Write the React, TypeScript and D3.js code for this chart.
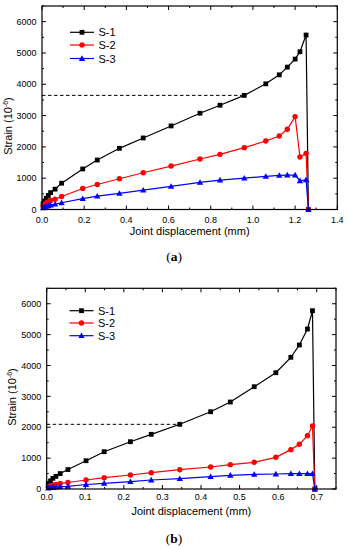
import React from "react";
import * as d3 from "d3";

// ---------- Data: panel (a) ----------
const dispA = [0.005, 0.012, 0.02, 0.03, 0.041, 0.062, 0.093, 0.193, 0.262, 0.367, 0.48, 0.612, 0.749, 0.844, 0.959, 1.061, 1.125, 1.163, 1.2, 1.223, 1.252, 1.263];
const s1A = [180, 270, 360, 450, 540, 650, 840, 1295, 1580, 1954, 2285, 2669, 3075, 3331, 3645, 4014, 4302, 4548, 4804, 5039, 5573, 0];
const s2A = [100, 160, 210, 250, 290, 330, 415, 670, 800, 982, 1174, 1388, 1612, 1761, 1975, 2188, 2349, 2562, 2968, 1676, 1793, 0];
const s3A = [50, 80, 100, 120, 140, 170, 215, 345, 427, 512, 619, 737, 865, 940, 1003, 1057, 1089, 1100, 1100, 918, 950, 0];
const dashedA = { x: 0.959, y: 3645 };
const xTicksA = [0, 0.2, 0.4, 0.6, 0.8, 1.0, 1.2, 1.4];

// ---------- Data: panel (b) ----------
const dispB = [0.004, 0.01, 0.016, 0.024, 0.035, 0.055, 0.102, 0.149, 0.217, 0.271, 0.345, 0.425, 0.476, 0.538, 0.594, 0.633, 0.655, 0.676, 0.689, 0.695];
const s1B = [185, 261, 346, 410, 500, 630, 916, 1208, 1532, 1771, 2095, 2503, 2817, 3313, 3766, 4265, 4663, 5181, 5774, 0];
const s2B = [75, 110, 130, 150, 180, 210, 291, 366, 453, 528, 625, 712, 788, 864, 1026, 1275, 1447, 1726, 2040, 0];
const s3B = [30, 45, 55, 65, 75, 85, 145, 184, 237, 291, 335, 399, 443, 475, 486, 497, 497, 497, 497, 0];
const dashedB = { x: 0.345, y: 2095 };
const xTicksB = [0, 0.1, 0.2, 0.3, 0.4, 0.5, 0.6, 0.7];

const yTicks = [0, 1000, 2000, 3000, 4000, 5000, 6000];
const seriesNames = ["S-1", "S-2", "S-3"];
const seriesColors = ["#000000", "#ff0000", "#0000ff"];
const seriesShapes = ["square", "circle", "triangle"];

const FONT = "'Liberation Sans', Arial, sans-serif";

function Marker({ shape, x, y, color }: { shape: string; x: number; y: number; color: string }) {
  if (shape === "square") return <rect x={x - 2.4} y={y - 2.4} width={4.8} height={4.8} fill={color} />;
  if (shape === "circle") return <circle cx={x} cy={y} r={2.7} fill={color} />;
  const s = 3.2;
  return <path d={`M${x},${y - s}L${x + s},${y + s * 0.75}L${x - s},${y + s * 0.75}Z`} fill={color} />;
}

type PanelProps = {
  left: number; right: number; top: number; bottom: number;
  xMax: number; xTicks: number[]; xMinorStep: number; xFmt: (v: number) => string;
  disp: number[]; series: number[][]; dashed: { x: number; y: number };
  yTitleX: number; yTitleY: number;
  xTickY: number; xTitleY: number;
  legendX: number; legendYs: number[];
  caption: string; captionY: number;
};

function Panel(p: PanelProps) {
  const x = d3.scaleLinear().domain([0, p.xMax]).range([p.left, p.right]);
  const y = d3.scaleLinear().domain([0, 6500]).range([p.bottom, p.top]);
  const line = d3.line<[number, number]>().x((d) => x(d[0])).y((d) => y(d[1]));
  const xMinor = d3.range(0, p.xMax + 1e-9, p.xMinorStep);
  const yMinor = d3.range(0, 6500 + 1e-9, 500);
  const isMajorX = (v: number) => p.xTicks.some((t) => Math.abs(t - v) < 1e-9);
  const major = 4, minor = 2;
  const tickEls: JSX.Element[] = [];
  xMinor.forEach((v, i) => {
    const L = isMajorX(v) ? major : minor;
    const px = x(v);
    tickEls.push(<line key={`xb${i}`} x1={px} x2={px} y1={p.bottom} y2={p.bottom - L} />);
    tickEls.push(<line key={`xt${i}`} x1={px} x2={px} y1={p.top} y2={p.top + L} />);
  });
  yMinor.forEach((v, i) => {
    const L = v % 1000 === 0 ? major : minor;
    const py = y(v);
    tickEls.push(<line key={`yl${i}`} x1={p.left} x2={p.left + L} y1={py} y2={py} />);
    tickEls.push(<line key={`yr${i}`} x1={p.right} x2={p.right - L} y1={py} y2={py} />);
  });
  return (
    <g fontFamily={FONT}>
      <line x1={x(0)} x2={x(p.dashed.x)} y1={y(p.dashed.y)} y2={y(p.dashed.y)} stroke="#000" strokeWidth={1} strokeDasharray="3.5,2.5" />
      {p.series.map((vals, si) => {
        const pts = p.disp.map((d, i) => [d, vals[i]] as [number, number]);
        return (
          <g key={si}>
            <path d={line(pts) || ""} fill="none" stroke={seriesColors[si]} strokeWidth={1.2} />
            {pts.map((pt, i) => (
              <Marker key={i} shape={seriesShapes[si]} x={x(pt[0])} y={y(pt[1])} color={seriesColors[si]} />
            ))}
          </g>
        );
      })}
      <rect x={p.left} y={p.top} width={p.right - p.left} height={p.bottom - p.top} fill="none" stroke="#000" strokeWidth={1.2} />
      <g stroke="#000" strokeWidth={1}>{tickEls}</g>
      {p.xTicks.map((v, i) => (
        <text key={`xl${i}`} x={x(v)} y={p.xTickY} fontSize={9} textAnchor="middle" fill="#000">{p.xFmt(v)}</text>
      ))}
      {yTicks.map((v, i) => (
        <text key={`yl${i}`} x={p.left - 5.5} y={y(v) + 3.2} fontSize={9} textAnchor="end" fill="#000">{v}</text>
      ))}
      <text x={(p.left + p.right) / 2} y={p.xTitleY} fontSize={11} textAnchor="middle" fill="#000">Joint displacement (mm)</text>
      <text transform={`translate(${p.yTitleX},${p.yTitleY}) rotate(-90)`} fontSize={11} textAnchor="middle" fill="#000">
        Strain (10<tspan fontSize={7} dy={-4}>-6</tspan><tspan dy={4}>)</tspan>
      </text>
      {seriesNames.map((name, i) => (
        <g key={name}>
          <line x1={p.legendX} x2={p.legendX + 24} y1={p.legendYs[i]} y2={p.legendYs[i]} stroke={seriesColors[i]} strokeWidth={1.2} />
          <Marker shape={seriesShapes[i]} x={p.legendX + 12} y={p.legendYs[i]} color={seriesColors[i]} />
          <text x={p.legendX + 28.5} y={p.legendYs[i] + 4} fontSize={11} fill="#000">{name}</text>
        </g>
      ))}
      <text x={174} y={p.captionY} fontSize={13.5} textAnchor="middle" fontFamily="'Liberation Serif', 'DejaVu Serif', serif" fill="#000">
        (<tspan fontWeight="bold">{p.caption}</tspan>)
      </text>
    </g>
  );
}

export default function App() {
  const fmt1 = (v: number) => v.toFixed(1);
  return (
    <svg width={349} height={550} style={{ position: "absolute", left: 0, top: 0, background: "#fff" }}>
      <rect width={349} height={550} fill="#fff" />
      <Panel
        left={42} right={337.3} top={6} bottom={209.5}
        xMax={1.4} xTicks={xTicksA} xMinorStep={0.1} xFmt={fmt1}
        disp={dispA} series={[s1A, s2A, s3A]} dashed={dashedA}
        yTitleX={12} yTitleY={126}
        xTickY={222.5} xTitleY={234.5}
        legendX={70} legendYs={[32.3, 45, 58.5]}
        caption="a" captionY={260.5}
      />
      <Panel
        left={46.7} right={336} top={288.3} bottom={489}
        xMax={0.75} xTicks={xTicksB} xMinorStep={0.05} xFmt={fmt1}
        disp={dispB} series={[s1B, s2B, s3B]} dashed={dashedB}
        yTitleX={16} yTitleY={397}
        xTickY={500} xTitleY={515}
        legendX={69.5} legendYs={[310.7, 323, 335.7]}
        caption="b" captionY={542.5}
      />
    </svg>
  );
}
